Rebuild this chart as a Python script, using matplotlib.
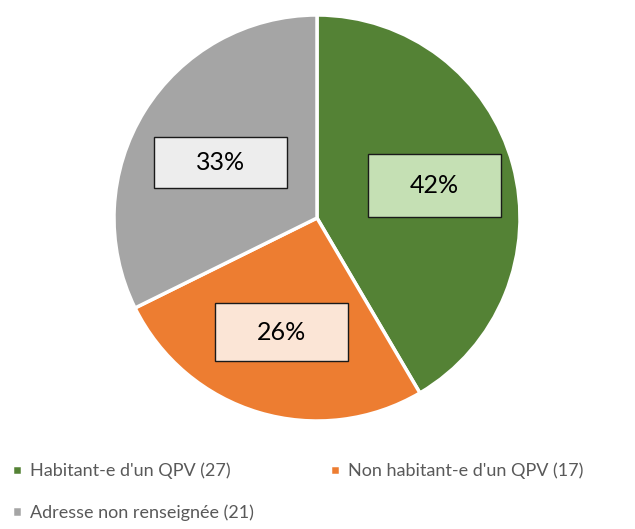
import matplotlib
matplotlib.use('Agg')
import matplotlib.pyplot as plt
from matplotlib.patches import Rectangle

labels = ["Habitant-e d'un QPV (27)", "Non habitant-e d'un QPV (17)", "Adresse non renseignée (21)"]
counts = [27, 17, 21]
pct_labels = ['42%', '26%', '33%']
colors = ['#548235', '#ED7D31', '#A5A5A5']
box_colors = ['#C5E0B4', '#FBE5D6', '#EDEDED']
# label box centres / sizes in pie-radius units (radius = 203 px)
box_xy = [(0.578, 0.16), (-0.177, -0.562), (-0.475, 0.274)]
box_wh = [(0.655, 0.315), (0.655, 0.286), (0.655, 0.251)]

plt.rcParams['font.family'] = ['Lato', 'DejaVu Sans']

fig = plt.figure(figsize=(6.35, 5.29), dpi=100)
ax = fig.add_axes([114 / 635, 108 / 529, 406 / 635, 406 / 529])

wedges, _ = ax.pie(counts, colors=colors, startangle=90, counterclock=False,
                   radius=1, wedgeprops=dict(edgecolor='white', linewidth=2.5))
ax.set_xlim(-1, 1)
ax.set_ylim(-1, 1)
ax.set_aspect('equal')

for txt, fc, (x, y), (w, h) in zip(pct_labels, box_colors, box_xy, box_wh):
    ax.add_patch(Rectangle((x - w / 2, y - h / 2), w, h, facecolor=fc,
                           edgecolor='#1a1a1a', linewidth=1.0, zorder=3, clip_on=False))
    ax.text(x, y, txt, ha='center', va='center', fontsize=18, color='black', zorder=4)

# reorder so the legend reads row by row
order = [0, 2, 1]
fig.legend([wedges[i] for i in order], [labels[i] for i in order],
           loc='upper left', bbox_to_anchor=(0.019, 0.125),
           ncol=2, frameon=False, fontsize=13, labelcolor='#595959',
           borderpad=0, borderaxespad=0,
           handlelength=0.55, handleheight=0.55, handletextpad=0.45,
           columnspacing=4.2, labelspacing=1.4)

fig.savefig('out.png', dpi=100)
